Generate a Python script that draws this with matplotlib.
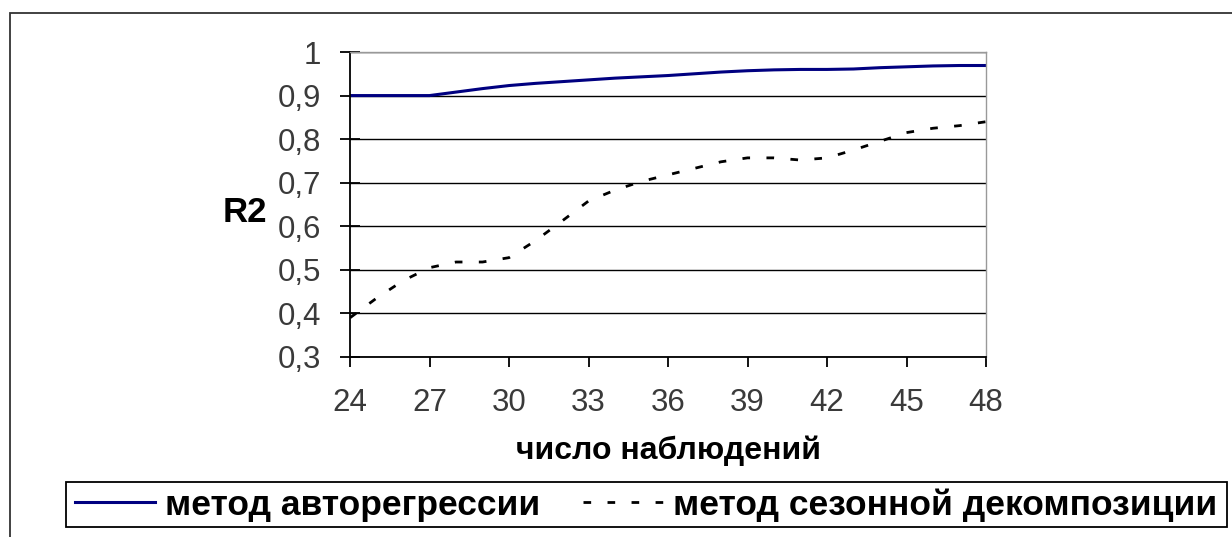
import matplotlib
matplotlib.use("Agg")
import matplotlib.pyplot as plt
from matplotlib.patches import Rectangle
from matplotlib.ticker import FuncFormatter, MultipleLocator

# число наблюдений
n_obs = [24, 25, 26, 27, 28, 29, 30, 31, 32, 33, 34, 35, 36,
         37, 38, 39, 40, 41, 42, 43, 44, 45, 46, 47, 48]
# метод авторегрессии
r2_autoreg = [0.900, 0.900, 0.900, 0.900, 0.908, 0.916, 0.923, 0.928, 0.932,
              0.936, 0.940, 0.943, 0.946, 0.950, 0.954, 0.957, 0.959, 0.960,
              0.960, 0.961, 0.964, 0.966, 0.968, 0.969, 0.969]
# метод сезонной декомпозиции
r2_seasonal = [0.390, 0.435, 0.475, 0.505, 0.518, 0.518, 0.528, 0.567, 0.612,
               0.658, 0.683, 0.703, 0.718, 0.733, 0.748, 0.757, 0.757, 0.752,
               0.757, 0.775, 0.795, 0.815, 0.825, 0.831, 0.840]

label_ar = "метод авторегрессии"
label_sd = "метод сезонной декомпозиции"

plt.rcParams['font.family'] = ['Liberation Sans', 'DejaVu Sans']
plt.rcParams['lines.scale_dashes'] = False

W, H = 1232, 537
fig = plt.figure(figsize=(W / 100, H / 100), dpi=100)
fig.patch.set_facecolor("white")

# outer chart frame (cut at the right and bottom of the picture)
fig.add_artist(Rectangle((10 / W, -0.1), 1.2, 1 - 13 / H + 0.1,
                         transform=fig.transFigure, fill=False,
                         edgecolor="#333333", lw=1.3))
# legend frame
fig.add_artist(Rectangle((66 / W, 1 - 527 / H), (1227 - 66) / W, 45 / H,
                         transform=fig.transFigure, fill=False,
                         edgecolor="black", lw=1.3))

ax = fig.add_axes([350 / W, 1 - 357 / H, (986 - 350) / W, (357 - 52) / H])

ax.plot(n_obs, r2_autoreg, color="#000080", lw=2.2, label=label_ar)
ax.plot(n_obs, r2_seasonal, color="black", lw=2.0, dashes=(5.5, 11.8),
        label=label_sd)

ax.set_xlim(24, 48)
ax.set_ylim(0.3, 1.0)
ax.xaxis.set_major_locator(MultipleLocator(3))
ax.yaxis.set_major_locator(MultipleLocator(0.1))
ax.yaxis.set_major_formatter(FuncFormatter(lambda v, p: ("%g" % round(v, 1)).replace(".", ",")))

ax.grid(axis="y", color="black", lw=1.0)
ax.set_axisbelow(True)
for s in ["top", "right"]:
    ax.spines[s].set_color("#999999")
    ax.spines[s].set_linewidth(1.0)
for s in ["left", "bottom"]:
    ax.spines[s].set_color("black")
    ax.spines[s].set_linewidth(1.3)

ax.tick_params(axis="y", direction="inout", length=14, width=1.3,
               labelsize=22.5, labelcolor="#3a3a3a", pad=14)
ax.tick_params(axis="x", direction="out", length=7, width=1.3,
               labelsize=22.5, labelcolor="#3a3a3a", pad=15)

ax.set_ylabel("R2", rotation=0, fontsize=25, fontweight="bold",
              ha="center", va="center")
ax.yaxis.set_label_coords((245 - 350) / 636, (357 - 212) / 305)
ax.set_xlabel("число наблюдений", fontsize=23, fontweight="bold",
              va="center")
ax.xaxis.set_label_coords(0.5, (357 - 451) / 305)

leg = fig.legend(loc="center left", bbox_to_anchor=(75 / W, 1 - 505 / H),
                 ncol=2, frameon=False, fontsize=25.5, handlelength=2.26,
                 columnspacing=1.21, handletextpad=0.28, borderpad=0,
                 borderaxespad=0)
for t in leg.get_texts():
    t.set_fontweight("bold")

fig.savefig("out.png", dpi=100, facecolor="white")
